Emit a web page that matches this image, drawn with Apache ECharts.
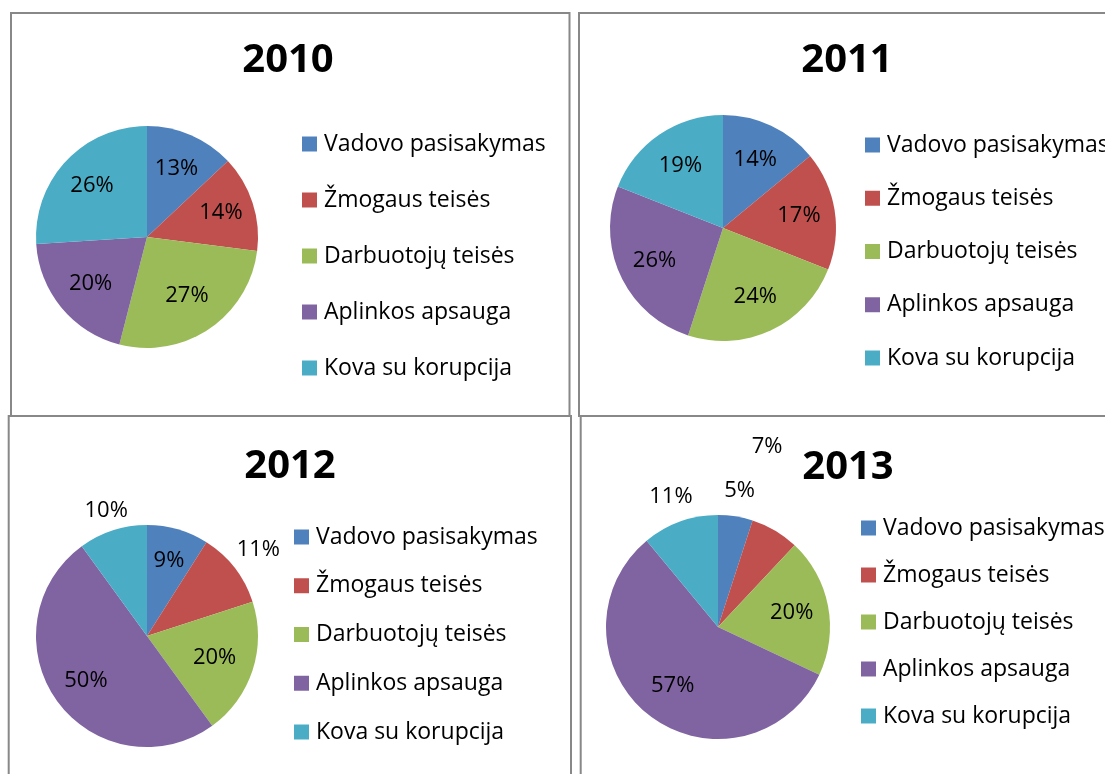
<!DOCTYPE html>
<html>
<head>
<meta charset="utf-8">
<title>2010–2013</title>
<script src="https://cdn.jsdelivr.net/npm/echarts@6/dist/echarts.min.js"></script>
<style>
html, body { margin: 0; padding: 0; background: #fff; }
#chart { width: 1105px; height: 774px; }
</style>
</head>
<body>
<div id="chart"></div>
<script>
const categories = ['Vadovo pasisakymas', 'Žmogaus teisės', 'Darbuotojų teisės', 'Aplinkos apsauga', 'Kova su korupcija'];
const years = ['2010', '2011', '2012', '2013'];
const values2010 = [13, 14, 27, 20, 26];
const values2011 = [14, 17, 24, 26, 19];
const values2012 = [9, 11, 20, 50, 10];
const values2013 = [5, 7, 20, 57, 11];
const yearValues = [values2010, values2011, values2012, values2013];

const colors = ['#4F81BD', '#C0504D', '#9BBB59', '#8064A2', '#4BACC6'];
const fontFamily = '"Open Sans", "Noto Sans", sans-serif';

// where the % labels sit: distance from centre (share of radius), turn in degrees
const labelDist = [
    [0.67, 0.7, 0.64, 0.66, 0.68],
    [0.67, 0.68, 0.67, 0.67, 0.67],
    [0.71, 1.27, 0.64, 0.68, 1.19],
    [1.23, 1.67, 0.67, 0.66, 1.24],
];
const labelTurn = [
    [0, 0, 0, 0, 0],
    [0, 0, 0, 0, 0],
    [0, 0, 0, 0, 0],
    [0, -15.4, 0, 0, 0],
];

// one box per year
const panels = [
    { box: [11, 13, 558.5, 403], center: [147, 237], radius: 111, title: [288, 61], legend: [302, 132], gap: 32 },
    { box: [579, 13, 560, 403], center: [723, 228], radius: 113, title: [847, 61], legend: [865, 133], gap: 29.25 },
    { box: [8.7, 416, 562.3, 400], center: [147, 636], radius: 111, title: [290, 467], legend: [294, 525], gap: 24.75 },
    { box: [580.7, 416, 560, 400], center: [718, 627], radius: 112, title: [848, 468], legend: [861, 516], gap: 23 },
];

const chart = echarts.init(document.getElementById('chart'));

const option = {
    animation: false,
    color: colors,
    graphic: panels.map(p => ({
        type: 'rect',
        silent: true,
        shape: { x: p.box[0], y: p.box[1], width: p.box[2], height: p.box[3] },
        style: { fill: 'none', stroke: '#888888', lineWidth: 2 },
    })),
    title: panels.map((p, i) => ({
        text: years[i],
        left: p.title[0],
        top: p.title[1],
        textAlign: 'center',
        textVerticalAlign: 'middle',
        padding: 0,
        textStyle: { fontSize: 40, fontWeight: 'bold', fontFamily: fontFamily, color: '#000' },
    })),
    legend: panels.map(p => ({
        orient: 'vertical',
        left: p.legend[0],
        top: p.legend[1],
        padding: 0,
        itemGap: p.gap,
        itemWidth: 15,
        itemHeight: 15,
        icon: 'rect',
        selectedMode: false,
        data: categories,
        textStyle: { fontSize: 23, lineHeight: 24, fontFamily: fontFamily, color: '#000', padding: [0, 0, 0, 2] },
    })),
    series: panels.map((p, i) => ({
        type: 'pie',
        name: years[i],
        center: p.center,
        radius: p.radius,
        startAngle: 90,
        clockwise: true,
        silent: true,
        emphasis: { disabled: true },
        data: categories.map((c, j) => ({ name: c, value: yearValues[i][j] })),
        label: {
            show: true,
            position: 'inside',
            formatter: q => q.value + '%',
            fontSize: 22,
            fontFamily: fontFamily,
            color: '#000',
        },
        labelLine: { show: false },
        labelLayout: function (params) {
            // push the label out along its slice (Excel style placement)
            const r = params.labelRect;
            const vx = r.x + r.width / 2 - p.center[0];
            const vy = r.y + r.height / 2 - p.center[1];
            const len = Math.hypot(vx, vy) || 1;
            const t = labelTurn[i][params.dataIndex] * Math.PI / 180;
            const ux = (vx * Math.cos(t) - vy * Math.sin(t)) / len;
            const uy = (vx * Math.sin(t) + vy * Math.cos(t)) / len;
            const d = labelDist[i][params.dataIndex] * p.radius;
            return {
                x: p.center[0] + ux * d,
                y: p.center[1] + uy * d,
                align: 'center',
                verticalAlign: 'middle',
            };
        },
    })),
};

chart.setOption(option);
</script>
</body>
</html>
